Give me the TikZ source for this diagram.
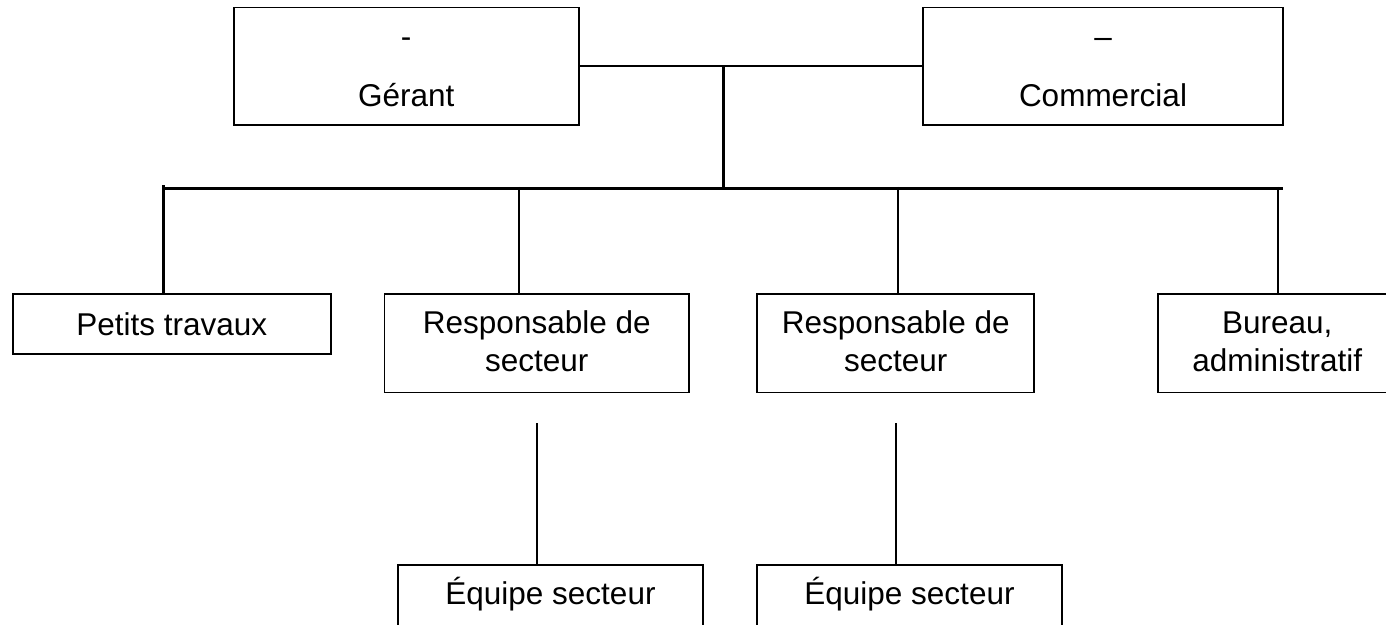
\documentclass[tikz,border=0pt]{standalone}
\usepackage{fontspec}
\setmainfont{Liberation Sans}
\usetikzlibrary{calc}

\begin{document}
\begin{tikzpicture}[x=1pt, y=-1pt,
  boite/.style={draw, line width=1.7pt, inner sep=0pt},
  texte/.style={anchor=base, inner sep=0pt, font=\fontsize{31.5pt}{37.7pt}\selectfont},
  trait/.style={line width=1.8pt},
  gros/.style={line width=3pt}]
\useasboundingbox (0,0) rectangle (1386,624);
% boites du haut
\node[boite, minimum width=345pt, minimum height=117.7pt] (gerant) at (406.2,66.2) {};
\node[boite, minimum width=359.4pt, minimum height=117.7pt] (commercial) at (1103,66.2) {};
\node[texte] (gerant-a) at (406.2,47.5) {-};
\node[texte] (gerant-b) at (406.2,106) {Gérant};
\node[texte] (commercial-a) at (1103,47.5) {--};
\node[texte] (commercial-b) at (1103,106) {Commercial};
% deuxieme rang
\node[boite, minimum width=318pt, minimum height=60pt] (petits) at (171.7,324) {};
\node[texte] (petits-a) at (171.7,335) {Petits travaux};
\node[boite, minimum width=304.5pt, minimum height=98.3pt] (resp1) at (536.8,343.2) {};
\node[boite, minimum width=277pt, minimum height=98.3pt] (resp2) at (895.8,343.2) {};
\node[boite, minimum width=260pt, minimum height=98.3pt] (bureau) at (1288.3,343.2) {};
\foreach \n/\x in {resp1/536.8, resp2/895.8} {
 \node[texte] (\n-a) at (\x,333.8) {Responsable de};
 \node[texte] (\n-b) at (\x,371.5) {secteur};
}
\node[texte] (bureau-a) at (1277.3,333.8) {Bureau,};
\node[texte] (bureau-b) at (1277.3,371.5) {administratif};
% equipes
\foreach \n/\x in {equipe1/550.5, equipe2/909.5} {
 \node[boite, minimum width=304.4pt, minimum height=66pt] (\n) at (\x,598) {};
 \node[texte] (\n-a) at (\x,604) {Équipe secteur};
}
% liaisons
\draw[trait] (gerant) -- (commercial);
\coordinate (hub) at (723.3,66.2);
\coordinate (bus-g) at (163.3,188.3);
\coordinate (bus-d) at (1283.3,188.3);
\draw[gros] (hub) -- (hub |- bus-g);
\draw[gros] (bus-g) -- (bus-d);
\draw[gros] (163.3,185) -- (163.3,185 |- petits.north);
\foreach \n/\x in {resp1/518.8, resp2/897.7, bureau/1277.7} {
 \coordinate (p-\n) at (\x,186.8);
 \draw[trait] (p-\n) -- (p-\n |- \n.north);
}
\foreach \n/\x in {equipe1/536.7, equipe2/895.7} {
 \coordinate (s-\n) at (\x,423);
 \draw[trait] (s-\n) -- (s-\n |- \n.north);
}
\end{tikzpicture}
\end{document}
